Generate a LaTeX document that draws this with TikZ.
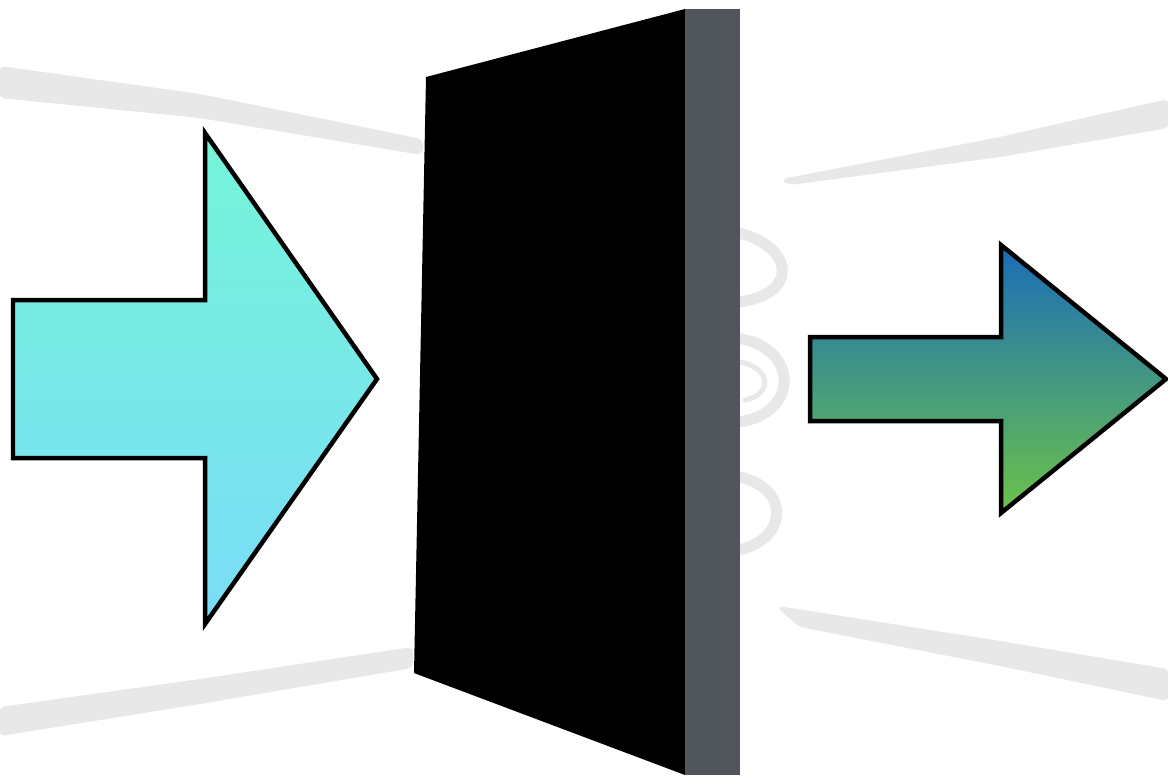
\documentclass[tikz,border=0pt]{standalone}
\usetikzlibrary{calc}
\definecolor{inTop}{HTML}{76F5D9}
\definecolor{inBot}{HTML}{7ADCF7}
\definecolor{outTop}{HTML}{1A6CB8}
\definecolor{outBot}{HTML}{6CC24A}
\definecolor{wallSide}{HTML}{51555C}
\definecolor{sketch}{HTML}{E8E8E8}

\tikzset{
  brush/.style={fill=sketch, draw=sketch, line width=0.04cm, rounded corners=0.1cm},
  coil/.style={draw=sketch, line width=0.22cm, line cap=round},
  arrowshape/.style={draw=black, line width=0.09cm, line join=miter},
}

\begin{document}
\begin{tikzpicture}[x=0.02cm, y=-0.02cm]
    \useasboundingbox (0,0) rectangle (1168,775);
    % background brush strokes
    \path[brush] (0,67) -- (200,95) -- (422,140) -- (422,154) -- (200,117) -- (0,97) -- cycle;
    \path[brush] (782,180) -- (1000,138) -- (1168,100) -- (1168,127) -- (1000,156) -- (790,184) -- cycle;
    \path[brush] (0,708) -- (200,680) -- (412,648) -- (412,667) -- (200,703) -- (0,735) -- cycle;
    \path[brush] (778,607) -- (1000,642) -- (1168,670) -- (1168,700) -- (1000,665) -- (800,626) -- cycle;
    % coil behind the wall
    \draw[coil] (735,232) .. controls (795,245) and (800,295) .. (738,302);
    \draw[coil] (735,338) .. controls (800,345) and (800,415) .. (738,422);
    \draw[coil, line width=0.1cm] (740,362) .. controls (772,368) and (772,395) .. (745,400);
    \draw[coil] (735,476) .. controls (792,486) and (788,540) .. (738,550);
    % the wall
    \coordinate (wTL) at (426,77);
    \coordinate (wTR) at (685,9);
    \coordinate (wBR) at (685,775);
    \coordinate (wBL) at (414,673);
    \fill[black] (wTL) -- (wTR) -- (wBR) -- (wBL) -- cycle;
    \fill[wallSide] (wTR) rectangle (740,775);
    % incoming arrow
    \path[arrowshape, top color=inTop, bottom color=inBot]
      (13,300) -- (205,300) -- (205,133) -- (377,379) -- (205,624)
      -- (205,458) -- (13,458) -- cycle;
    % outgoing arrow
    \path[arrowshape, top color=outTop, bottom color=outBot]
      (810,337) -- (1001,337) -- (1001,245) -- (1166,379) -- (1001,513)
      -- (1001,421) -- (810,421) -- cycle;
\end{tikzpicture}
\end{document}
